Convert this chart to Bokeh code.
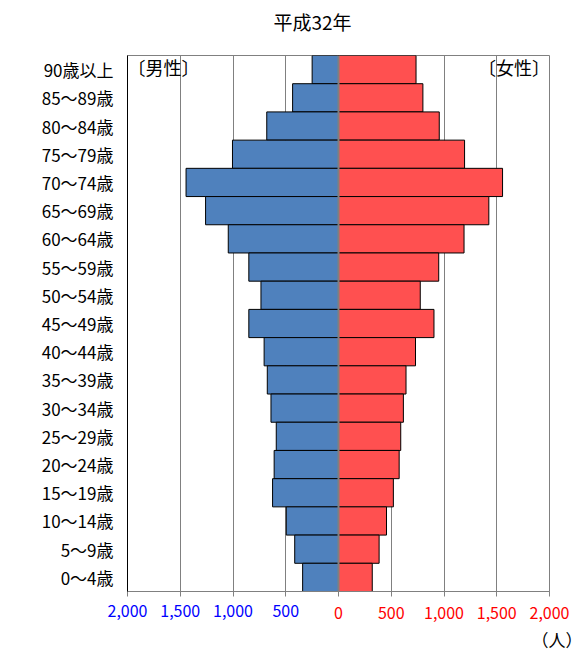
from bokeh.plotting import figure
from bokeh.models import (FactorRange, Range1d, FixedTicker, LinearAxis, Label,
                          Span, Title)
from bokeh.embed import file_html
from bokeh.resources import INLINE

# Age groups, oldest first
age_groups = ["90歳以上", "85～89歳", "80～84歳", "75～79歳", "70～74歳",
              "65～69歳", "60～64歳", "55～59歳", "50～54歳", "45～49歳",
              "40～44歳", "35～39歳", "30～34歳", "25～29歳", "20～24歳",
              "15～19歳", "10～14歳", "5～9歳", "0～4歳"]

# Population (persons)
male = [250, 435, 680, 1005, 1445, 1260, 1045, 850, 735, 850,
        705, 675, 640, 590, 610, 625, 495, 415, 340]
female = [735, 800, 955, 1195, 1555, 1425, 1190, 950, 775, 905,
          730, 640, 615, 590, 575, 520, 455, 385, 320]

male_ticks = [-2000, -1500, -1000, -500]
male_tick_labels = ["2,000", "1,500", "1,000", "500"]
female_ticks = [0, 500, 1000, 1500, 2000]
female_tick_labels = ["0", "500", "1,000", "1,500", "2,000"]

FONT = "Noto Sans CJK JP"

p = figure(
    y_range=FactorRange(factors=age_groups[::-1]),
    x_range=Range1d(-2000, 2000),
    frame_width=422, frame_height=536,
    min_border_left=127, min_border_right=33,
    min_border_top=55, min_border_bottom=55,
    toolbar_location=None, output_backend="svg",
)
p.background_fill_color = "white"
p.border_fill_color = "white"
p.outline_line_color = "#808080"
p.outline_line_width = 1

# Bars
p.hbar(y=age_groups, left=[-v for v in male], right=0, height=1.0,
       fill_color="#4F81BD", line_color="black", line_width=1)
p.hbar(y=age_groups, left=0, right=female, height=1.0,
       fill_color="#FF5050", line_color="black", line_width=1)

# Centre line
p.add_layout(Span(location=0, dimension="height", line_color="#808080", line_width=2))

# Grid
all_ticks = male_ticks + female_ticks
p.xgrid.ticker = FixedTicker(ticks=all_ticks)
p.xgrid.grid_line_color = "#808080"
p.xgrid.grid_line_width = 1
p.xgrid.level = "underlay"
p.ygrid.grid_line_color = None

# Bottom axis (female side labels in red, tick marks for all)
xa = p.below[0]
xa.ticker = FixedTicker(ticks=all_ticks)
overrides = {v: "" for v in male_ticks}
overrides.update({v: t for v, t in zip(female_ticks, female_tick_labels)})
xa.major_label_overrides = overrides
xa.major_label_text_font = FONT
xa.major_label_text_font_size = "16px"
xa.major_label_text_color = "#FF0000"
xa.major_label_standoff = 10
xa.axis_line_color = "#808080"
xa.major_tick_line_color = "#808080"
xa.major_tick_in = 0
xa.major_tick_out = 5
xa.minor_tick_line_color = None

# Y axis
ya = p.left[0]
ya.axis_line_color = "black"
ya.major_tick_line_color = None
ya.minor_tick_line_color = None
ya.major_tick_in = 0
ya.major_tick_out = 0
ya.major_label_standoff = 14
ya.major_label_text_font = FONT
ya.major_label_text_font_size = "17px"
ya.major_label_text_color = "black"

# Second bottom axis for male side labels in blue, pulled up onto the same row
xb = LinearAxis(ticker=FixedTicker(ticks=male_ticks))
xb.major_label_overrides = {v: t for v, t in zip(male_ticks, male_tick_labels)}
xb.major_label_text_font = FONT
xb.major_label_text_font_size = "16px"
xb.major_label_text_color = "#0000FF"
xb.axis_line_color = None
xb.major_tick_line_color = None
xb.minor_tick_line_color = None
xb.major_tick_in = 0
xb.major_tick_out = 0
xb.major_label_standoff = -17
p.add_layout(xb, "below")

# Unit caption
unit = Title(text="（人）", align="right", offset=-33, standoff=8,
             vertical_align="middle", text_font=FONT,
             text_font_size="17px", text_font_style="normal", text_color="black")
p.add_layout(unit, "below")

# Title area: an empty axis as a gap next to the frame, then the title text
p.title.text = ""
gap = LinearAxis(ticker=FixedTicker(ticks=[-2000]))
gap.major_label_overrides = {-2000: ""}
gap.major_label_standoff = 0
gap.major_tick_in = 0
gap.major_tick_out = 21
gap.axis_line_color = None
gap.major_tick_line_color = None
gap.minor_tick_line_color = None
p.add_layout(gap, "above")
p.add_layout(Title(text="平成32年", align="left", offset=146, standoff=0,
                   text_font=FONT, text_font_size="19px", text_font_style="normal",
                   text_color="black"), "above")

# Sex captions inside the plot
p.add_layout(Label(x=-2000, y=18.6, text="〔男性〕", text_align="left",
                   text_baseline="middle", text_font=FONT, text_font_size="18px",
                   text_color="black"))
p.add_layout(Label(x=2005, y=18.6, text="〔女性〕", text_align="right",
                   text_baseline="middle", text_font=FONT, text_font_size="18px",
                   text_color="black"))

open("out.html", "w").write(file_html(p, INLINE))
